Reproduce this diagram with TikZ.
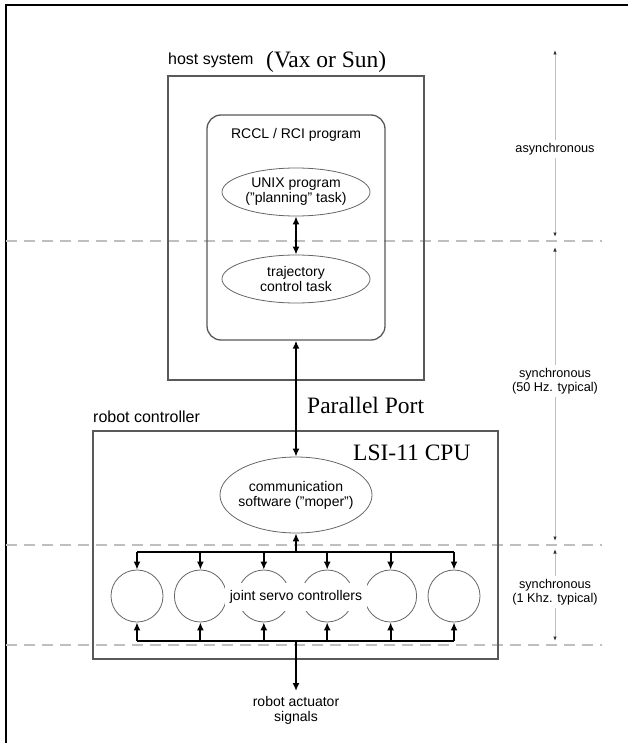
\documentclass[tikz,border=0pt]{standalone}
\usepackage{fontspec}
\setmainfont{Liberation Sans}
\newfontfamily\serifx{Liberation Serif}
\usetikzlibrary{arrows.meta,shapes.geometric}
\tikzset{
  boxline/.style={draw=black!65, line width=1.3pt, inner sep=0pt},
  ell/.style={ellipse, draw=black!60, line width=0.8pt, inner sep=-10pt, align=center, font=\fontsize{14}{15}\selectfont},
  servo/.style={circle, draw=black!60, line width=0.8pt, minimum size=52pt, inner sep=0pt},
  bigarrow/.style={line width=2pt, {Latex[length=8pt,width=7pt]}-{Latex[length=8pt,width=7pt]}},
  tarrow/.style={line width=2pt, -{Latex[length=8pt,width=7pt]}},
  busline/.style={line width=2pt},
  dashline/.style={draw=black!25, line width=1.2pt, dash pattern=on 11pt off 7pt},
  rarrow/.style={draw=black!25, line width=1pt, -{Latex[length=4.5pt,width=3.5pt,color=black!80]}},
  sanstext/.style={font=\fontsize{14}{15}\selectfont},
  bigsans/.style={font=\fontsize{16}{18}\selectfont},
  smallsans/.style={font=\fontsize{12.7}{14}\selectfont, align=center, inner sep=3pt},
  serifbig/.style={font=\serifx\fontsize{23.5}{26}\selectfont, inner sep=0pt},
}
\begin{document}
\begin{tikzpicture}[x=1pt,y=-1pt]
\useasboundingbox (0,0) rectangle (627,743);
\fill[white] (0,0) rectangle (627,743);
% outer frame
\draw[line width=2.5pt] (6,760) -- (6,5) -- (640,5);
% dashed separators
\draw[dashline] (6,241) -- (602,241);
\draw[dashline] (6,545) -- (602,545);
\draw[dashline] (6,645) -- (602,645);
% host system
\node[anchor=base west, bigsans, inner sep=0pt] (hostlbl) at (168,65) {host system};
\node[anchor=base west, serifbig] (vax) at (266,68) {(Vax or Sun)};
\node[boxline, minimum width=256pt, minimum height=304pt] (host) at (296,228) {};
\node[boxline, rounded corners=14pt, minimum width=178pt, minimum height=225pt] (rcl) at (296,227.5) {};
\node[sanstext] (rcltxt) at (296,135) {RCCL / RCI program};
\node[ell, minimum width=148pt, minimum height=48pt] (unix) at (296,192) {UNIX program\\("planning" task)};
\node[ell, minimum width=148pt, minimum height=48pt] (traj) at (296,279) {trajectory\\control task};
\draw[bigarrow] (unix) -- (traj);
% robot controller
\node[anchor=west, bigsans, inner sep=0pt] (rclbl) at (93,417) {robot controller};
\node[boxline, minimum width=405pt, minimum height=228pt] (robot) at (295.5,545) {};
\node[anchor=west, serifbig] (lsi) at (353,453) {LSI-11 CPU};
\node[ell, minimum width=152pt, minimum height=76pt] (comm) at (296,495) {communication\\software ("moper")};
\draw[bigarrow] (rcl.south) -- (comm.north);
\node[anchor=west, serifbig] (pp) at (307,405) {Parallel Port};
% servo controllers
\foreach \i/\x in {1/137,2/200.4,3/263.8,4/327.2,5/390.6,6/454}{
  \node[servo] (s\i) at (\x,596) {};
}
\node[fill=white, inner xsep=5pt, inner ysep=7pt, sanstext] (jsc) at (296,597) {joint servo controllers};
\coordinate (bt) at (296,552);
\coordinate (bb) at (296,641);
\draw[busline] (s1.north |- bt) -- (s6.north |- bt);
\draw[busline] (s1.south |- bb) -- (s6.south |- bb);
\foreach \i in {1,...,6}{
  \draw[tarrow] (s\i.north |- bt) -- (s\i.north);
  \draw[tarrow] (s\i.south |- bb) -- (s\i.south);
}
\draw[tarrow] (bt) -- (comm.south);
\node[anchor=north, sanstext, align=center, inner sep=1pt] (act) at (296,695) {robot actuator\\signals};
\draw[tarrow] (bb) -- ([yshift=4pt]act.north);
% timing annotations
\coordinate (t1a) at (555,50);
\coordinate (t1b) at (555,237);
\coordinate (t2a) at (555,247);
\coordinate (t2b) at (555,541);
\coordinate (t3a) at (555,549);
\coordinate (t3b) at (555,641);
\node[smallsans] (lab1) at (555,149) {asynchronous};
\node[smallsans] (lab2) at (555,381) {synchronous\\(50 Hz. typical)};
\node[smallsans] (lab3) at (555,592) {synchronous\\(1 Khz. typical)};
\draw[rarrow] (lab1.north) -- (t1a);
\draw[rarrow] (lab1.south) -- (t1b);
\draw[rarrow] (lab2.north) -- (t2a);
\draw[rarrow] (lab2.south) -- (t2b);
\draw[rarrow] (lab3.north) -- (t3a);
\draw[rarrow] (lab3.south) -- (t3b);
\end{tikzpicture}
\end{document}
